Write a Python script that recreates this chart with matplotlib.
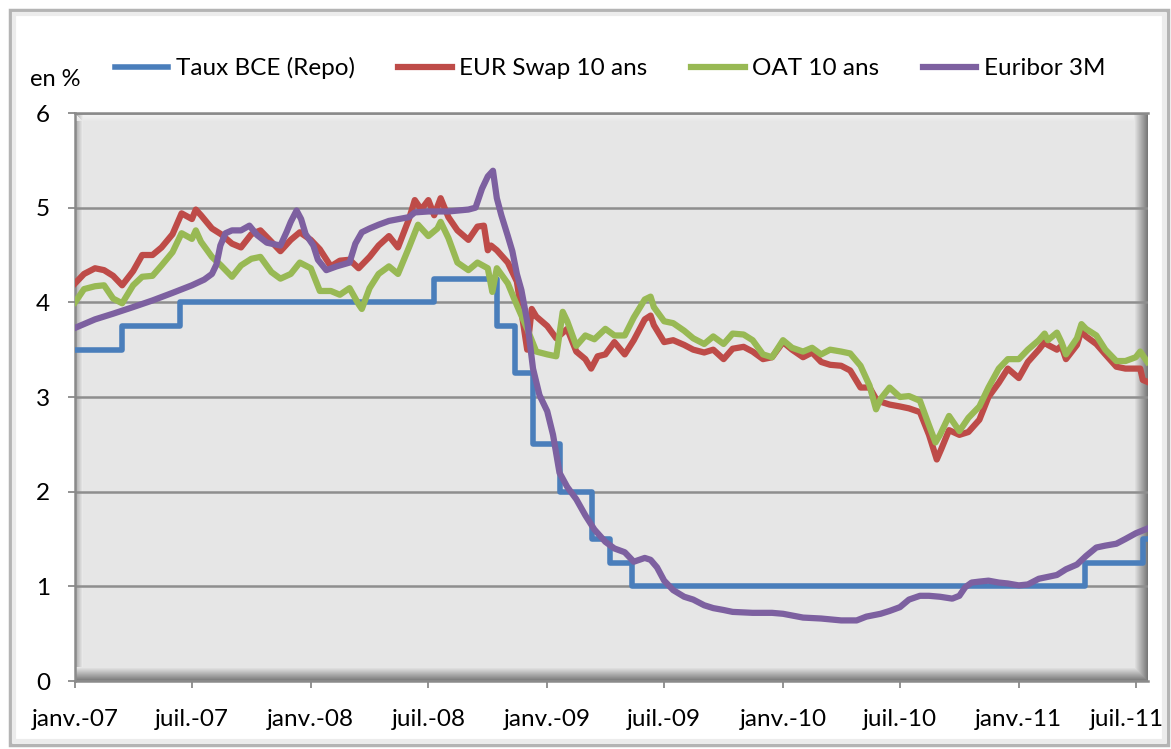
import matplotlib.pyplot as plt
import matplotlib.transforms as mtransforms
from matplotlib.patches import Rectangle
import numpy as np
import pandas as pd

plt.rcParams['font.family'] = ['Lato', 'DejaVu Sans']

# ---- Données ----
repo_dates = ['2007-01-01', '2007-03-14', '2007-06-13', '2008-07-09', '2008-10-15',
              '2008-11-12', '2008-12-10', '2009-01-21', '2009-03-11', '2009-04-08',
              '2009-05-13', '2011-04-13', '2011-07-13', '2011-07-19']
repo_vals = [3.50, 3.75, 4.00, 4.25, 3.75, 3.25, 2.50, 2.00, 1.50, 1.25, 1.00, 1.25, 1.50, 1.50]

swap_dates = ['2007-01-01', '2007-01-15', '2007-02-01', '2007-02-15', '2007-03-01', '2007-03-15',
              '2007-04-01', '2007-04-15', '2007-05-01', '2007-05-15', '2007-06-01', '2007-06-15',
              '2007-07-01', '2007-07-07', '2007-07-15', '2007-08-01', '2007-08-15', '2007-09-01',
              '2007-09-15', '2007-10-01', '2007-10-15', '2007-11-01', '2007-11-15', '2007-12-01',
              '2007-12-15', '2008-01-01', '2008-01-15', '2008-02-01', '2008-02-15', '2008-03-01',
              '2008-03-15', '2008-04-01', '2008-04-15', '2008-05-01', '2008-05-15', '2008-06-01',
              '2008-06-10', '2008-06-20', '2008-07-01', '2008-07-10', '2008-07-20', '2008-08-01',
              '2008-08-15', '2008-09-01', '2008-09-15', '2008-09-25', '2008-10-01', '2008-10-06',
              '2008-10-15', '2008-11-01', '2008-11-15', '2008-12-01', '2008-12-08', '2008-12-15',
              '2009-01-01', '2009-01-15', '2009-02-01', '2009-02-15', '2009-03-01', '2009-03-10',
              '2009-03-20', '2009-04-01', '2009-04-15', '2009-05-01', '2009-05-15', '2009-06-01',
              '2009-06-10', '2009-06-15', '2009-07-01', '2009-07-15', '2009-08-01', '2009-08-15',
              '2009-09-01', '2009-09-15', '2009-10-01', '2009-10-15', '2009-11-01', '2009-11-15',
              '2009-12-01', '2009-12-15', '2010-01-01', '2010-01-15', '2010-02-01', '2010-02-15',
              '2010-03-01', '2010-03-15', '2010-04-01', '2010-04-15', '2010-05-01', '2010-05-15',
              '2010-05-25', '2010-06-01', '2010-06-15', '2010-07-01', '2010-07-15', '2010-08-01',
              '2010-08-15', '2010-08-27', '2010-09-03', '2010-09-15', '2010-10-01', '2010-10-15',
              '2010-11-01', '2010-11-15', '2010-12-01', '2010-12-15', '2011-01-01', '2011-01-15',
              '2011-02-01', '2011-02-10', '2011-02-15', '2011-03-01', '2011-03-08', '2011-03-15',
              '2011-04-01', '2011-04-08', '2011-04-15', '2011-05-01', '2011-05-15', '2011-06-01',
              '2011-06-15', '2011-07-01', '2011-07-08', '2011-07-12', '2011-07-19']
swap_vals = [4.20, 4.30, 4.36, 4.34, 4.28, 4.18,
             4.33, 4.50, 4.50, 4.58, 4.72, 4.94,
             4.88, 4.98, 4.92, 4.78, 4.72, 4.62,
             4.58, 4.72, 4.76, 4.64, 4.54, 4.66,
             4.74, 4.66, 4.56, 4.38, 4.44, 4.45,
             4.36, 4.48, 4.60, 4.70, 4.58, 4.88,
             5.08, 4.98, 5.08, 4.92, 5.10, 4.90,
             4.76, 4.66, 4.80, 4.81, 4.55, 4.60,
             4.55, 4.42, 4.22, 3.50, 3.93, 3.85,
             3.75, 3.62, 3.72, 3.48, 3.40, 3.30,
             3.43, 3.45, 3.58, 3.45, 3.60, 3.82,
             3.86, 3.76, 3.58, 3.60, 3.55, 3.50,
             3.47, 3.50, 3.40, 3.51, 3.53, 3.48,
             3.40, 3.42, 3.58, 3.50, 3.42, 3.47,
             3.37, 3.34, 3.33, 3.28, 3.10, 3.10,
             2.98, 2.95, 2.92, 2.90, 2.88, 2.84,
             2.60, 2.34, 2.45, 2.65, 2.60, 2.63,
             2.76, 3.00, 3.15, 3.30, 3.20, 3.37,
             3.50, 3.58, 3.55, 3.50, 3.54, 3.40,
             3.55, 3.70, 3.64, 3.56, 3.45, 3.32,
             3.30, 3.30, 3.30, 3.18, 3.16]

oat_dates = ['2007-01-01', '2007-01-15', '2007-02-01', '2007-02-15', '2007-03-01', '2007-03-15',
             '2007-04-01', '2007-04-15', '2007-05-01', '2007-05-15', '2007-06-01', '2007-06-15',
             '2007-07-01', '2007-07-07', '2007-07-15', '2007-08-01', '2007-08-15', '2007-09-01',
             '2007-09-15', '2007-10-01', '2007-10-15', '2007-11-01', '2007-11-15', '2007-12-01',
             '2007-12-15', '2008-01-01', '2008-01-15', '2008-02-01', '2008-02-15', '2008-03-01',
             '2008-03-15', '2008-03-20', '2008-04-01', '2008-04-15', '2008-05-01', '2008-05-15',
             '2008-06-01', '2008-06-15', '2008-07-01', '2008-07-15', '2008-07-20', '2008-08-01',
             '2008-08-15', '2008-09-01', '2008-09-15', '2008-10-01', '2008-10-08', '2008-10-15',
             '2008-11-01', '2008-11-15', '2008-12-01', '2008-12-15', '2009-01-01', '2009-01-15',
             '2009-01-25', '2009-02-01', '2009-02-15', '2009-03-01', '2009-03-15', '2009-04-01',
             '2009-04-15', '2009-05-01', '2009-05-15', '2009-06-01', '2009-06-10', '2009-06-15',
             '2009-07-01', '2009-07-15', '2009-08-01', '2009-08-15', '2009-09-01', '2009-09-15',
             '2009-10-01', '2009-10-15', '2009-11-01', '2009-11-15', '2009-12-01', '2009-12-15',
             '2010-01-01', '2010-01-15', '2010-02-01', '2010-02-15', '2010-03-01', '2010-03-15',
             '2010-04-01', '2010-04-15', '2010-05-01', '2010-05-15', '2010-05-25', '2010-06-01',
             '2010-06-15', '2010-07-01', '2010-07-15', '2010-08-01', '2010-08-15', '2010-08-25',
             '2010-09-01', '2010-09-15', '2010-10-01', '2010-10-15', '2010-11-01', '2010-11-15',
             '2010-12-01', '2010-12-15', '2011-01-01', '2011-01-15', '2011-02-01', '2011-02-10',
             '2011-02-15', '2011-03-01', '2011-03-08', '2011-03-15', '2011-04-01', '2011-04-08',
             '2011-04-15', '2011-05-01', '2011-05-15', '2011-06-01', '2011-06-15', '2011-07-01',
             '2011-07-08', '2011-07-19']
oat_vals = [4.00, 4.14, 4.17, 4.18, 4.04, 3.99,
            4.18, 4.27, 4.28, 4.39, 4.53, 4.73,
            4.67, 4.76, 4.64, 4.48, 4.39, 4.27,
            4.39, 4.46, 4.48, 4.32, 4.25, 4.30,
            4.42, 4.36, 4.12, 4.12, 4.08, 4.15,
            3.98, 3.93, 4.15, 4.30, 4.38, 4.30,
            4.58, 4.82, 4.70, 4.78, 4.85, 4.68,
            4.42, 4.34, 4.42, 4.36, 4.11, 4.36,
            4.20, 3.97, 3.72, 3.48, 3.45, 3.43,
            3.90, 3.80, 3.54, 3.65, 3.61, 3.72,
            3.65, 3.65, 3.84, 4.03, 4.06, 3.95,
            3.80, 3.78, 3.70, 3.62, 3.56, 3.64,
            3.56, 3.67, 3.66, 3.60, 3.45, 3.42,
            3.60, 3.52, 3.48, 3.52, 3.45, 3.50,
            3.48, 3.46, 3.33, 3.12, 2.87, 2.98,
            3.10, 3.00, 3.01, 2.96, 2.70, 2.52,
            2.60, 2.80, 2.64, 2.78, 2.90, 3.10,
            3.30, 3.40, 3.40, 3.50, 3.60, 3.67,
            3.60, 3.68, 3.58, 3.45, 3.62, 3.77,
            3.72, 3.65, 3.50, 3.38, 3.38, 3.42,
            3.48, 3.37]

euribor_dates = ['2007-01-01', '2007-02-01', '2007-03-01', '2007-04-01', '2007-05-01', '2007-06-01',
                 '2007-07-01', '2007-07-20', '2007-08-01', '2007-08-08', '2007-08-14', '2007-08-22',
                 '2007-09-01', '2007-09-15', '2007-09-28', '2007-10-10', '2007-10-25', '2007-11-15',
                 '2007-11-25', '2007-12-01', '2007-12-10', '2007-12-17', '2007-12-24', '2008-01-05',
                 '2008-01-12', '2008-01-25', '2008-02-10', '2008-03-01', '2008-03-10', '2008-03-20',
                 '2008-04-01', '2008-04-15', '2008-05-01', '2008-06-01', '2008-06-10', '2008-07-01',
                 '2008-08-01', '2008-09-01', '2008-09-12', '2008-09-22', '2008-10-01', '2008-10-09',
                 '2008-10-15', '2008-10-22', '2008-11-01', '2008-11-08', '2008-11-15', '2008-11-22',
                 '2008-12-01', '2008-12-10', '2008-12-20', '2009-01-01', '2009-01-10', '2009-01-20',
                 '2009-02-01', '2009-02-15', '2009-03-01', '2009-03-15', '2009-04-01', '2009-04-15',
                 '2009-05-01', '2009-05-15', '2009-06-01', '2009-06-10', '2009-06-20', '2009-07-01',
                 '2009-07-15', '2009-08-01', '2009-08-15', '2009-09-01', '2009-09-15', '2009-10-01',
                 '2009-10-15', '2009-11-15', '2009-12-15', '2010-01-01', '2010-02-01', '2010-03-01',
                 '2010-04-01', '2010-04-25', '2010-05-10', '2010-06-01', '2010-06-15', '2010-07-01',
                 '2010-07-15', '2010-08-01', '2010-08-15', '2010-09-01', '2010-09-20', '2010-10-01',
                 '2010-10-10', '2010-10-20', '2010-11-01', '2010-11-15', '2010-12-01', '2010-12-15',
                 '2011-01-01', '2011-01-15', '2011-02-01', '2011-02-15', '2011-03-01', '2011-03-15',
                 '2011-04-01', '2011-04-15', '2011-05-01', '2011-05-15', '2011-06-01', '2011-06-15',
                 '2011-07-01', '2011-07-19']
euribor_vals = [3.73, 3.82, 3.88, 3.95, 4.02, 4.10,
                4.18, 4.24, 4.30, 4.40, 4.60, 4.73,
                4.76, 4.76, 4.81, 4.71, 4.63, 4.60,
                4.75, 4.85, 4.97, 4.88, 4.72, 4.60,
                4.45, 4.34, 4.38, 4.42, 4.62, 4.74,
                4.78, 4.82, 4.86, 4.90, 4.95, 4.96,
                4.96, 4.98, 5.00, 5.20, 5.33, 5.39,
                5.10, 4.92, 4.70, 4.54, 4.30, 4.13,
                3.80, 3.30, 3.02, 2.85, 2.60, 2.20,
                2.05, 1.92, 1.75, 1.60, 1.47, 1.40,
                1.36, 1.26, 1.30, 1.28, 1.20, 1.06,
                0.96, 0.89, 0.86, 0.80, 0.77, 0.75,
                0.73, 0.72, 0.72, 0.71, 0.67, 0.66,
                0.64, 0.64, 0.68, 0.71, 0.74, 0.78,
                0.86, 0.90, 0.90, 0.89, 0.87, 0.90,
                0.99, 1.04, 1.05, 1.06, 1.04, 1.03,
                1.01, 1.02, 1.08, 1.10, 1.12, 1.18,
                1.23, 1.32, 1.41, 1.43, 1.45, 1.50,
                1.56, 1.61]

tick_dates = ['2007-01-01', '2007-07-01', '2008-01-01', '2008-07-01', '2009-01-01',
              '2009-07-01', '2010-01-01', '2010-07-01', '2011-01-01', '2011-07-01']
tick_labels = ['janv.-07', 'juil.-07', 'janv.-08', 'juil.-08', 'janv.-09',
               'juil.-09', 'janv.-10', 'juil.-10', 'janv.-11', 'juil.-11']

# ---- Figure ----
W, H = 1171, 749
fig = plt.figure(figsize=(W / 100, H / 100), dpi=100)
ax = fig.add_axes([75 / W, 1 - 681 / H, (1148 - 75) / W, (681 - 113) / H])
ax.set_facecolor('#e6e6e6')

# cadre extérieur
fig.patches.append(Rectangle((10 / W, 4 / H), 1158 / W, 735 / H, transform=fig.transFigure,
                             fill=False, edgecolor='#b4b4b4', lw=2.5))
fig.patches.append(Rectangle((14 / W, 8 / H), 1150 / W, 727 / H, transform=fig.transFigure,
                             fill=False, edgecolor='#ececec', lw=3))

# effet d'ombre de la zone de traçage (bas et droite)
n = 14
shade = np.linspace(0.90, 0.47, n)
for i in range(n):
    c = str(shade[i])
    ax.add_patch(Rectangle((0, (n - 1 - i) / 568), 1, 1 / 568, transform=ax.transAxes,
                           facecolor=c, edgecolor='none', zorder=0.1))
    ax.add_patch(Rectangle(((1073 - n + i) / 1073, 0), 1 / 1073, 1, transform=ax.transAxes,
                           facecolor=c, edgecolor='none', zorder=0.1))
# léger relief en haut et à gauche
for i in range(8):
    c = str(0.96 - i * 0.007)
    ax.add_patch(Rectangle((0, 1 - (i + 1) / 568), 1 - n / 1073, 1 / 568, transform=ax.transAxes,
                           facecolor=c, edgecolor='none', zorder=0.1))
    ax.add_patch(Rectangle((i / 1073, n / 568), 1 / 1073, 1 - n / 568, transform=ax.transAxes,
                           facecolor=str(0.66 + i * 0.036), edgecolor='none', zorder=0.1))

ax.plot(pd.to_datetime(repo_dates), repo_vals, drawstyle='steps-post', color='#4a7ebb',
        lw=4, label='Taux BCE (Repo)', zorder=3)
ax.plot(pd.to_datetime(swap_dates), swap_vals, color='#be4b48', lw=4.5,
        label='EUR Swap 10 ans', zorder=3)
ax.plot(pd.to_datetime(oat_dates), oat_vals, color='#98b954', lw=4.5,
        label='OAT 10 ans', zorder=3)
ax.plot(pd.to_datetime(euribor_dates), euribor_vals, color='#7d60a0', lw=4.5,
        label='Euribor 3M', zorder=3)

ax.set_xlim(pd.Timestamp('2007-01-01'), pd.Timestamp('2011-07-20'))
ax.set_ylim(0, 6)
ax.set_xticks(pd.to_datetime(tick_dates))
ax.set_xticklabels(tick_labels)
ax.set_yticks(range(7))
ax.set_yticklabels([str(v) for v in range(7)])

ax.set_axisbelow(True)
ax.yaxis.grid(True, color='#8e8e8e', lw=1.8)
for side in ['top', 'left', 'bottom']:
    ax.spines[side].set_color('#8a8a8a')
    ax.spines[side].set_linewidth(1.8)
ax.spines['right'].set_visible(False)
ax.tick_params(axis='both', colors='#8a8a8a', length=5, width=1.3, labelcolor='black',
               labelsize=17.5)
ax.tick_params(axis='y', pad=13)
ax.tick_params(axis='x', pad=15)

# le dernier libellé touche le bord droit : léger décalage vers la gauche
last = ax.get_xticklabels()[-1]
last.set_transform(last.get_transform() + mtransforms.ScaledTranslation(-6 / 72, 0, fig.dpi_scale_trans))

fig.text(30 / W, 1 - 80 / H, 'en %', fontsize=17, va='center', ha='left')

ax.legend(loc='center', bbox_to_anchor=((610 - 75) / 1073, (681 - 68) / 568), ncol=4,
          frameon=False, fontsize=17.5, handlelength=2.2, handletextpad=0.3,
          columnspacing=1.8)

fig.savefig('out.png', dpi=100)
